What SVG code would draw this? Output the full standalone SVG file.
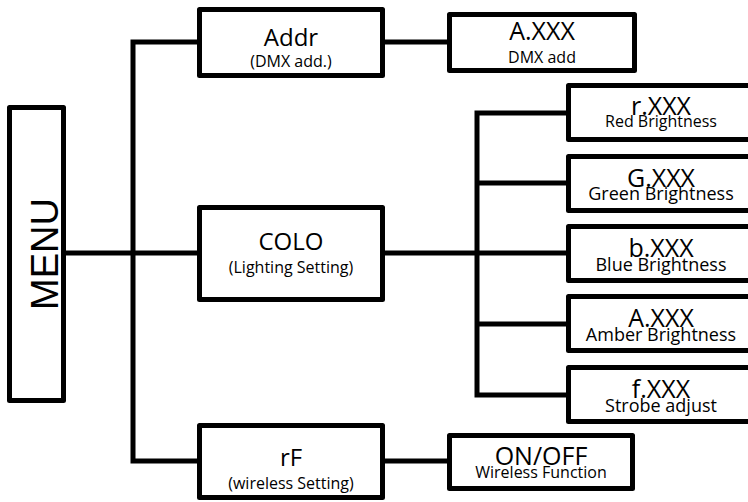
<svg xmlns="http://www.w3.org/2000/svg" width="748" height="502" viewBox="0 0 748 502">
<style>
.box{fill:#fff;stroke:#000;stroke-width:5;stroke-linejoin:round}
.ln{fill:none;stroke:#000;stroke-width:5;stroke-linejoin:miter;stroke-linecap:butt}
text{font-family:"Open Sans","Noto Sans",sans-serif;fill:#000;text-anchor:middle}
.code{font-size:25px}
.lbl{font-size:24px}
.sub{font-size:16px}
.sub2{font-size:18px}
</style>
<rect width="748" height="502" fill="#fff"/>
<g id="connectors">
<path class="ln" d="M64 253 H200"/>
<path class="ln" d="M200 42 H133 V461 H200"/>
<path class="ln" d="M383 42 H450"/>
<path class="ln" d="M383 253 H569"/>
<path class="ln" d="M569 113 H477 V395 H569"/>
<path class="ln" d="M477 183 H569"/>
<path class="ln" d="M477 324 H569"/>
<path class="ln" d="M383 461 H450"/>
</g>
<g id="menu">
<rect class="box" x="9.5" y="107.5" width="54" height="293"/>
<text transform="translate(58 254) rotate(-90)" style="font-family:'Liberation Sans',Arial,sans-serif;font-size:38px">MENU</text>
</g>
<g id="addr">
<rect class="box" x="199.5" y="9.5" width="183" height="66"/>
<text class="lbl" x="291" y="46">Addr</text>
<text class="sub" x="291" y="67">(DMX add.)</text>
</g>
<g id="colo">
<rect class="box" x="199.5" y="207.5" width="183" height="92"/>
<text class="lbl" x="291" y="250">COLO</text>
<text class="sub" x="291" y="273">(Lighting Setting)</text>
</g>
<g id="rf">
<rect class="box" x="199.5" y="425.5" width="183" height="72"/>
<text class="lbl" x="291" y="466">rF</text>
<text class="sub" x="291" y="489">(wireless Setting)</text>
</g>
<g id="axxx-dmx">
<rect class="box" x="449.5" y="14.5" width="185" height="56"/>
<text class="code" x="542" y="40">A.XXX</text>
<text class="sub" x="542" y="63">DMX add</text>
</g>
<g id="r-xxx">
<rect class="box" x="568.5" y="85.5" width="200" height="54"/>
<text class="code" x="661" y="115">r.XXX</text>
<text class="sub" x="661" y="127">Red Brightness</text>
</g>
<g id="g-xxx">
<rect class="box" x="568.5" y="156.5" width="200" height="54"/>
<text class="code" x="661" y="187">G.XXX</text>
<text class="sub2" x="661" y="200">Green Brightness</text>
</g>
<g id="b-xxx">
<rect class="box" x="568.5" y="226.5" width="200" height="54"/>
<text class="code" x="661" y="257">b.XXX</text>
<text class="sub2" x="661" y="271">Blue Brightness</text>
</g>
<g id="a-xxx">
<rect class="box" x="568.5" y="296.5" width="200" height="54"/>
<text class="code" x="661" y="327">A.XXX</text>
<text class="sub2" x="661" y="341">Amber Brightness</text>
</g>
<g id="f-xxx">
<rect class="box" x="568.5" y="367.5" width="200" height="54"/>
<text class="code" x="661" y="398">f.XXX</text>
<text class="sub2" x="661" y="412">Strobe adjust</text>
</g>
<g id="onoff">
<rect class="box" x="449.5" y="435.5" width="183" height="53"/>
<text class="code" x="541" y="465">ON/OFF</text>
<text class="sub" x="541" y="478">Wireless Function</text>
</g>
</svg>
